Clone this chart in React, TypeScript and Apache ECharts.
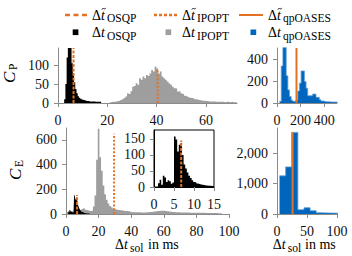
import React, { useEffect, useRef } from "react";
import * as echarts from "echarts";

const ORANGE = "#E37222";
const GREY = "#9E9E9E";
const BLUE = "#0065BD";
const BLUE_EDGE = "#5E9ED6";
const BLACK = "#000000";
const AXIS_GREY = "#8A8A8A";
const FONT = "'Liberation Serif', 'DejaVu Serif', serif";

// ---------- C_P (top row) ----------
const osqpPStart = 2.5;
const osqpPBin = 0.5;
const osqpPCounts = [10, 50, 120, 200, 200, 145, 105, 78, 55, 37, 26, 18, 14, 11, 9, 8, 7, 6, 5, 5, 4, 4, 4, 4, 4, 3, 3, 3, 3, 3];

const ipoptPStart = 21.0;
const ipoptPBin = 0.7;
const ipoptPCounts = [
  2, 3, 3, 4, 5, 6, 8, 10, 13, 17, 26, 24, 31, 43, 45, 52, 48, 65, 61, 70,
  65, 74, 71, 78, 87, 83, 96, 91, 78, 83, 70, 65, 61, 57, 52, 48, 43, 39, 38, 30,
  31, 26, 24, 19, 18, 16, 14, 13, 12, 10, 9, 8, 7, 6, 6, 5, 5, 4, 4, 4,
  4, 3, 3, 3, 3, 3, 2, 3, 3, 2, 3, 2, 2, 2,
];

const qpoasesPStart = 22;
const qpoasesPBin = 14;
const qpoasesPCounts = [
  15, 340, 700, 700, 250, 120, 60, 25, 15, 20, 25, 110, 182, 294, 294, 197, 136, 67,
  67, 67, 82, 82, 52, 52, 30, 18, 18, 12, 12, 11, 10, 10, 9, 9, 8,
];

// ---------- C_E (bottom row) ----------
const osqpEStart = 1.0;
const osqpEBin = 0.4;
const osqpECounts = [
  12, 23, 7, 35, 30, 16, 21, 18, 10, 14, 158, 148, 111, 132, 137, 100, 70, 58, 45, 35,
  28, 21, 16, 14, 11, 9, 8, 7, 6, 5, 5, 4, 4, 3, 3,
];

const ipoptEStart = -0.5;
const ipoptEBin = 1;
const ipoptECounts = [
  15, 18, 20, 22, 20, 22, 25, 28, 30, 32, 40, 46, 35, 30, 26, 24, 28, 60, 150, 440,
  690, 460, 350, 230, 160, 115, 86, 65, 55, 45, 38, 34, 32, 30, 30, 26, 25, 24, 23, 22,
  16, 15, 15, 14, 14, 14, 13, 13, 13, 14, 15, 16, 17, 18, 20, 22, 24, 25, 27, 27,
  26, 25, 23, 21, 19, 17, 16, 15, 14, 14, 13, 13, 12, 12, 12, 12, 11, 11, 11, 11,
  11, 10, 10, 10, 10, 10, 9, 9, 9, 9, 8, 8, 8, 7, 7, 6,
];

const qpoasesEStart = 4.2;
const qpoasesEBin = 10.2;
const qpoasesECounts = [1257, 1552, 2689, 142, 208, 109, 40, 35, 30, 25];

// medians: [x value, drawn height]
const medOsqpP = [6.3, 145];
const medIpoptP = [40.4, 88];
const medQpoasesP = [165, 505];
const medOsqpE = [6.8, 155];
const medIpoptE = [29.5, 650];
const medQpoasesE = [26, 2690];
const medOsqpInset = [6.8, 145];

// ticks
const tlXTicks = [0, 20, 40, 60];
const tlYTicks = [0, 50, 100];
const trXTicks = [0, 200, 400];
const trYTicks = [0, 200, 400];
const blXTicks = [0, 20, 40, 60, 80, 100];
const blYTicks = [0, 200, 400, 600];
const brXTicks = [0, 50, 100];
const brYTicks = [0, 1000, 2000];
const inXTicks = [0, 5, 10, 15];
const inYTicks = [0, 50, 100, 150];

function stepData(start: number, width: number, counts: number[]) {
  const pts = counts.map((c, i) => [start + i * width, c]);
  pts.push([start + counts.length * width, counts[counts.length - 1]]);
  return pts;
}

function hist(data: number[][], gi: number, color: string, edge?: string, z = 2) {
  return {
    type: "line",
    xAxisIndex: gi,
    yAxisIndex: gi,
    data,
    step: "end",
    symbol: "none",
    showSymbol: false,
    silent: true,
    clip: true,
    z,
    lineStyle: edge ? { color: edge, width: 0.8 } : { width: 0, color },
    areaStyle: { color, opacity: 1 },
  };
}

function vline(m: number[], gi: number, type: any, z = 3) {
  return {
    type: "line",
    xAxisIndex: gi,
    yAxisIndex: gi,
    data: [[m[0], 0], [m[0], m[1]]],
    symbol: "none",
    showSymbol: false,
    silent: true,
    z,
    lineStyle: { color: ORANGE, width: 2, type },
  };
}

const fmt = (v: number) => v.toLocaleString("en-US");

function mkAxis(dim: "x" | "y", gi: number, min: number, max: number, ticks: number[], inset = false) {
  return {
    type: "value",
    gridIndex: gi,
    min,
    max,
    z: inset ? 12 : 0,
    axisLine: { show: true, onZero: false, lineStyle: { color: inset ? "#000" : AXIS_GREY, width: 1 } },
    axisTick: { show: true, inside: false, length: 4, customValues: ticks, lineStyle: { color: AXIS_GREY, width: 1 } },
    axisLabel: {
      show: true,
      customValues: ticks,
      margin: dim === "x" ? 11 : 9,
      color: "#111",
      fontFamily: FONT,
      fontSize: 14,
      lineHeight: 12,
      formatter: fmt,
    },
    splitLine: { show: false },
  };
}

function txt(x: number, y: number, text: string, size: number, italic = false, align = "left") {
  return {
    type: "text",
    x,
    y,
    silent: true,
    style: {
      text,
      fontSize: size,
      fontFamily: FONT,
      fontStyle: italic ? "italic" : "normal",
      lineHeight: Math.round(size * 0.85),
      fill: "#000",
      align,
      verticalAlign: "middle",
      textAlign: align,
      textVerticalAlign: "middle",
    },
  };
}

function tildeMark(x: number, y: number) {
  return {
    type: "bezierCurve",
    silent: true,
    shape: { x1: x, y1: y + 0.8, cpx1: x + 1.4, cpy1: y - 1.8, cpx2: x + 2.6, cpy2: y + 1.8, x2: x + 4, y2: y - 0.8 },
    style: { stroke: "#000", lineWidth: 0.9, fill: null },
  };
}

function deltaT(x: number, y: number, sub: string, tilde: boolean) {
  const els: any[] = [txt(x, y, "Δ", 14), txt(x + 9, y, "t", 14, true)];
  if (tilde) els.push(tildeMark(x + 9.8, y - 6.3));
  els.push(txt(x + 15, y + 3, sub, 11.5));
  return els;
}

const legendEls: any[] = [
  { type: "line", silent: true, shape: { x1: 65, y1: 15, x2: 87, y2: 15 }, style: { stroke: ORANGE, lineWidth: 2.5, lineDash: [5, 3.5] } },
  { type: "line", silent: true, shape: { x1: 154, y1: 15, x2: 177, y2: 15 }, style: { stroke: ORANGE, lineWidth: 2.5, lineDash: [3, 2] } },
  { type: "line", silent: true, shape: { x1: 239, y1: 15, x2: 263, y2: 15 }, style: { stroke: ORANGE, lineWidth: 2 } },
  ...deltaT(92, 15, "OSQP", true),
  ...deltaT(182, 15, "IPOPT", true),
  ...deltaT(268, 15, "qpOASES", true),
  { type: "rect", silent: true, shape: { x: 72.7, y: 29.4, width: 5.7, height: 5.7 }, style: { fill: BLACK } },
  { type: "rect", silent: true, shape: { x: 165.5, y: 29.4, width: 5.7, height: 5.7 }, style: { fill: GREY } },
  { type: "rect", silent: true, shape: { x: 250.5, y: 29.4, width: 5.7, height: 5.7 }, style: { fill: BLUE } },
  ...deltaT(92, 32.5, "OSQP", false),
  ...deltaT(182, 32.5, "IPOPT", false),
  ...deltaT(268, 32.5, "qpOASES", false),
];

const titleEls: any[] = [
  {
    type: "group",
    x: 9.5,
    y: 83,
    rotation: Math.PI / 2,
    children: [txt(0, 0, "C", 17, true), txt(13, 3.5, "P", 11.5)],
  },
  {
    type: "group",
    x: 15,
    y: 180,
    rotation: Math.PI / 2,
    children: [txt(0, 0, "C", 17, true), txt(13, 3.5, "E", 11.5)],
  },
  ...deltaT(115, 244.5, "sol", false),
  txt(148, 244.5, "in ms", 14),
  ...deltaT(272.7, 244.5, "sol", false),
  txt(305, 244.5, "in ms", 14),
];

const option: any = {
  animation: false,
  backgroundColor: "#fff",
  grid: [
    { left: 58, top: 48, width: 179, height: 55, outerBoundsMode: "none" },
    { left: 277, top: 48, width: 60, height: 55, outerBoundsMode: "none" },
    { left: 66, top: 128, width: 163, height: 86, outerBoundsMode: "none" },
    { left: 277, top: 128, width: 60, height: 86, outerBoundsMode: "none" },
    {
      left: 154, top: 130, width: 60, height: 57, outerBoundsMode: "none",
      show: true, backgroundColor: "#fff", borderColor: "#000", borderWidth: 1, z: 10,
    },
  ],
  xAxis: [
    mkAxis("x", 0, 0, 72.6, tlXTicks),
    mkAxis("x", 1, 0, 508, trXTicks),
    mkAxis("x", 2, 0, 100, blXTicks),
    mkAxis("x", 3, 0, 100, brXTicks),
    mkAxis("x", 4, 0, 15, inXTicks, true),
  ],
  yAxis: [
    mkAxis("y", 0, 0, 145, tlYTicks),
    mkAxis("y", 1, 0, 505, trYTicks),
    mkAxis("y", 2, 0, 697, blYTicks),
    mkAxis("y", 3, 0, 2834, brYTicks),
    mkAxis("y", 4, 0, 178, inYTicks, true),
  ],
  series: [
    hist(stepData(osqpPStart, osqpPBin, osqpPCounts), 0, BLACK),
    hist(stepData(ipoptPStart, ipoptPBin, ipoptPCounts), 0, GREY),
    vline(medOsqpP, 0, [3, 1.5]),
    vline(medIpoptP, 0, [2, 1.8]),
    hist(stepData(qpoasesPStart, qpoasesPBin, qpoasesPCounts), 1, BLUE, BLUE_EDGE),
    vline(medQpoasesP, 1, "solid"),
    hist(stepData(ipoptEStart, ipoptEBin, ipoptECounts), 2, GREY),
    hist(stepData(osqpEStart, osqpEBin, osqpECounts), 2, BLACK),
    vline(medOsqpE, 2, [3, 1.5]),
    vline(medIpoptE, 2, [2, 1.8]),
    hist(stepData(qpoasesEStart, qpoasesEBin, qpoasesECounts), 3, BLUE, BLUE_EDGE),
    vline(medQpoasesE, 3, "solid"),
    hist(stepData(osqpEStart, osqpEBin, osqpECounts), 4, BLACK, undefined, 11),
    vline(medOsqpInset, 4, [3, 1.5], 11),
  ],
  graphic: { elements: [...legendEls, ...titleEls] },
};

export default function App() {
  const ref = useRef<HTMLDivElement>(null);
  useEffect(() => {
    const chart = echarts.init(ref.current!, null, { renderer: "svg" });
    chart.setOption(option);
    return () => chart.dispose();
  }, []);
  return <div ref={ref} style={{ position: "absolute", left: 0, top: 0, width: 352, height: 256 }} />;
}
